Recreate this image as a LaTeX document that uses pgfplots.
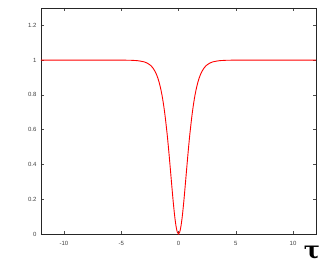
\documentclass[border=0pt]{standalone}
\usepackage{pgfplots}
\pgfplotsset{compat=1.18}
\usepackage{fontspec}
\setmainfont{Liberation Sans}
\newfontfamily\taufont{DejaVu Serif}
\begin{document}
\begin{tikzpicture}[x=1pt,y=1pt]
\path[use as bounding box] (0,0) rectangle (330,264);
\begin{axis}[
  at={(41pt,30pt)}, anchor=south west,
  scale only axis, width=275pt, height=226pt,
  xmin=-12, xmax=12, ymin=0, ymax=1.3,
  xtick={-10,-5,0,5,10},
  ytick={0,0.2,0.4,0.6,0.8,1,1.2},
  yticklabels={0,0.2,0.4,0.6,0.8,1,1.2},
  tick align=inside, major tick length=3pt,
  tick style={black!70, line width=0.5pt},
  axis line style={black!85, line width=0.8pt},
  /pgf/number format/assume math mode=true,
  tick label style={font=\fontsize{6}{7}\selectfont, text=black!75},
  xticklabel style={yshift=-4pt},
  yticklabel style={xshift=-1pt},
  clip=false,
]
\addplot[red, line width=0.9pt, smooth] coordinates {
(-12,1) (-5,0.99982) (-4,0.99866) (-3.5,0.99637) (-3,0.99013) (-2.75,0.98378)
(-2.5,0.97340) (-2.25,0.95654) (-2,0.92935) (-1.8,0.89645) (-1.6,0.84948)
(-1.4,0.78385) (-1.2,0.69498) (-1,0.58002) (-0.9,0.51309) (-0.8,0.44095)
(-0.7,0.36526) (-0.6,0.28842) (-0.5,0.21355) (-0.4,0.14436) (-0.3,0.08486)
(-0.2,0.03896) (-0.1,0.00993) (0,0)
(0.1,0.00993) (0.2,0.03896) (0.3,0.08486) (0.4,0.14436) (0.5,0.21355)
(0.6,0.28842) (0.7,0.36526) (0.8,0.44095) (0.9,0.51309) (1,0.58002)
(1.2,0.69498) (1.4,0.78385) (1.6,0.84948) (1.8,0.89645) (2,0.92935)
(2.25,0.95654) (2.5,0.97340) (2.75,0.98378) (3,0.99013) (3.5,0.99637)
(4,0.99866) (5,0.99982) (12,1)
};
\node[anchor=center, font=\taufont\bfseries\fontsize{24}{24}\selectfont] at (axis description cs:0.985,-0.085) {τ};
\end{axis}
\end{tikzpicture}
\end{document}
